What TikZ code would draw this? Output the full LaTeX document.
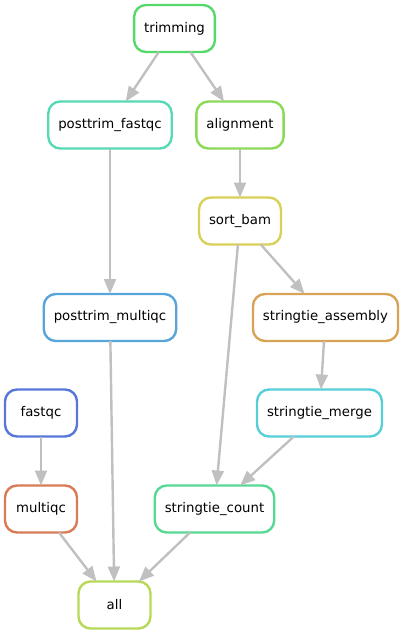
\documentclass[tikz,border=0pt]{standalone}
\usepackage{fontspec}
\setmainfont{DejaVu Sans}
\usetikzlibrary{arrows.meta}
\definecolor{cTrim}{HTML}{57D86B}
\definecolor{cPtf}{HTML}{57D9B5}
\definecolor{cAlign}{HTML}{8AD957}
\definecolor{cSort}{HTML}{D9D057}
\definecolor{cPtm}{HTML}{57A5D9}
\definecolor{cAsm}{HTML}{D9A357}
\definecolor{cFastqc}{HTML}{5778D9}
\definecolor{cMerge}{HTML}{57CFD9}
\definecolor{cMultiqc}{HTML}{D97B57}
\definecolor{cCount}{HTML}{57D994}
\definecolor{cAll}{HTML}{B8D957}
\definecolor{edgegray}{HTML}{C0C0C0}
\begin{document}
\begin{tikzpicture}[x=1pt,y=-1pt,
  rule/.style={draw=#1, line width=2.4pt, rounded corners=12pt, fill=white,
    minimum height=47pt, minimum width=72pt, inner xsep=10pt, inner ysep=0pt, outer sep=0pt,
    font=\fontsize{13.3}{15}\selectfont},
  dep/.style={draw=edgegray, line width=2.4pt,
    -{Triangle[length=15pt,width=12pt]}}]
\useasboundingbox (0,0) rectangle (403,635);
\node[rule=cTrim] (trimming) at (174.5,28.5) {trimming};
\node[rule=cPtf] (ptf) at (110,125) {posttrim\_fastqc};
\node[rule=cAlign] (align) at (240,125) {alignment};
\node[rule=cSort] (sort) at (240,221) {sort\_bam};
\node[rule=cPtm] (ptm) at (110,317.5) {posttrim\_multiqc};
\node[rule=cAsm] (asm) at (325.5,317.5) {stringtie\_assembly};
\node[rule=cFastqc] (fastqc) at (41,413) {fastqc};
\node[rule=cMerge] (merge) at (319.5,413) {stringtie\_merge};
\node[rule=cMultiqc] (multiqc) at (41,509) {multiqc};
\node[rule=cCount] (count) at (214.5,509) {stringtie\_count};
\node[rule=cAll] (all) at (114.5,605) {all};
\draw[dep] (trimming) -- (ptf);
\draw[dep] (trimming) -- (align);
\draw[dep] (align) -- (sort);
\draw[dep] (sort) -- (asm);
\draw[dep] (sort) -- (count);
\draw[dep] (ptf) -- (ptm);
\draw[dep] (ptm) -- (all);
\draw[dep] (asm) -- (merge);
\draw[dep] (merge) -- (count);
\draw[dep] (fastqc) -- (multiqc);
\draw[dep] (multiqc) -- (all);
\draw[dep] (count) -- (all);
\end{tikzpicture}
\end{document}
